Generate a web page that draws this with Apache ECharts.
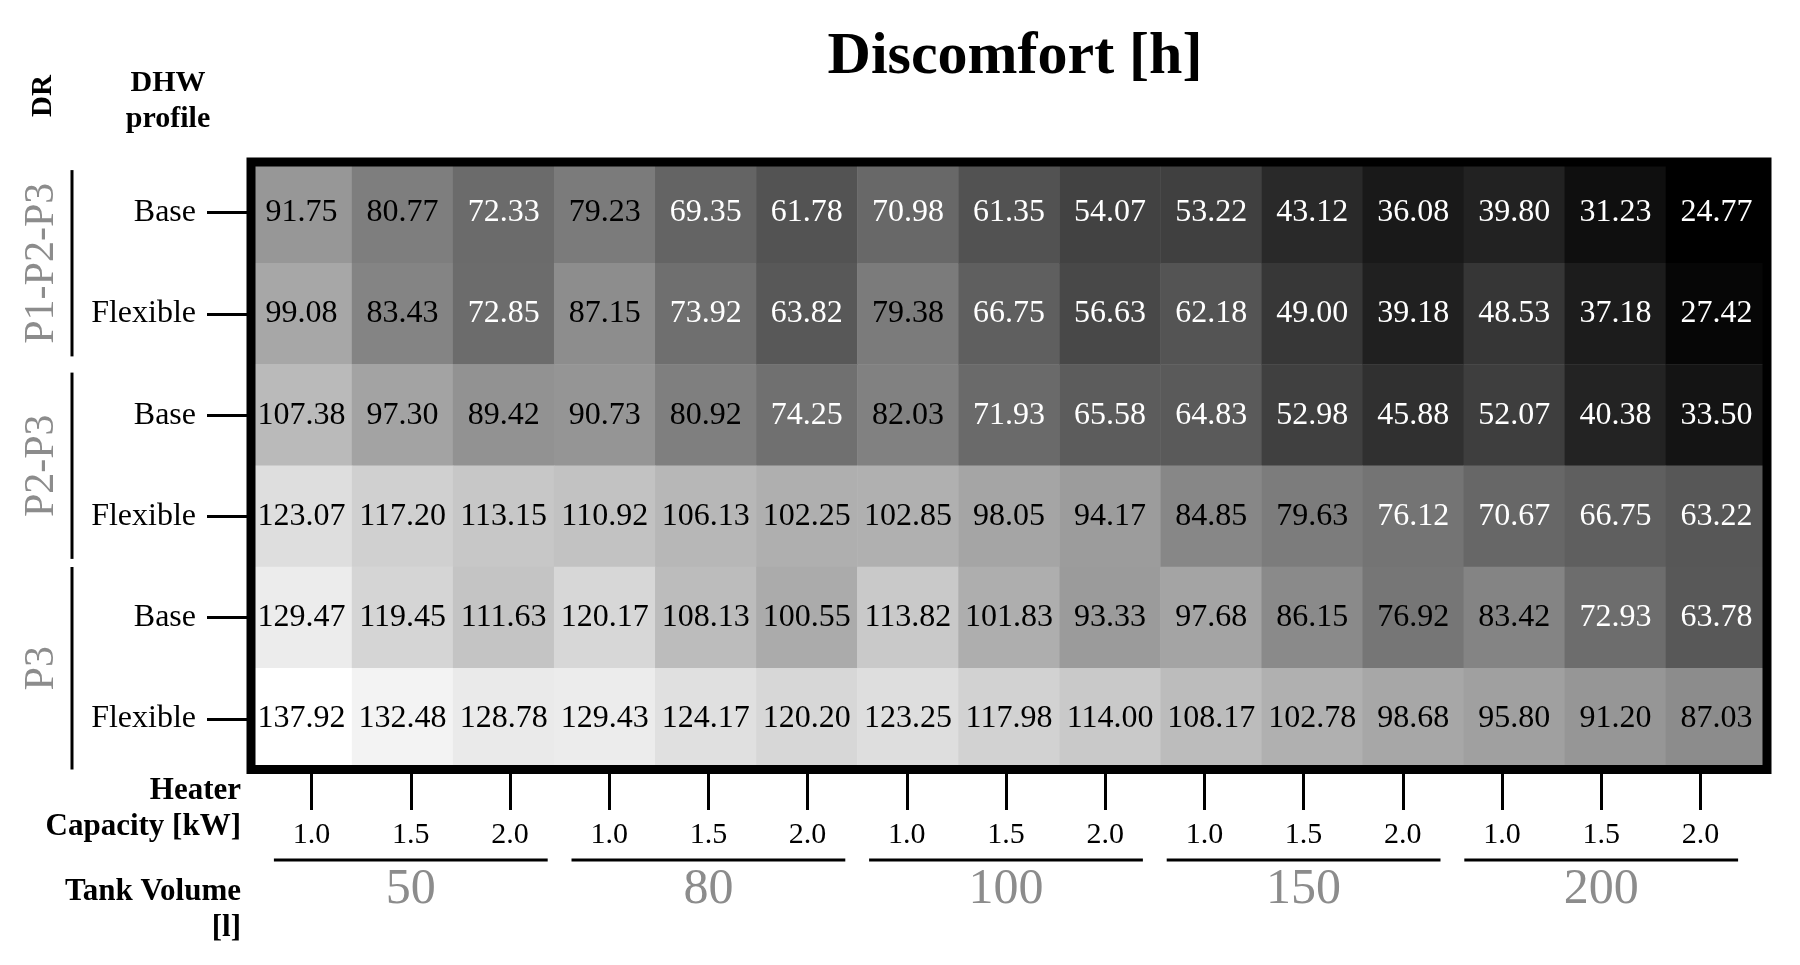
<!DOCTYPE html>
<html>
<head>
<meta charset="utf-8">
<title>Discomfort [h]</title>
<script src="https://cdn.jsdelivr.net/npm/echarts@6/dist/echarts.min.js"></script>
<style>
  html, body { margin: 0; padding: 0; background: #fff; }
  #chart { width: 1800px; height: 965px; }
</style>
</head>
<body>
<div id="chart"></div>
<script>
  // axis categories
  var heaterCaps = ['1.0', '1.5', '2.0']
  var tankVolumes = ['50', '80', '100', '150', '200']
  var drGroups = ['P1-P2-P3', 'P2-P3', 'P3']
  var profiles = ['Base', 'Flexible']

  // discomfort hours, one row per DR / DHW profile, 15 columns (tank x heater)
  var p123Base = [91.75, 80.77, 72.33, 79.23, 69.35, 61.78, 70.98, 61.35, 54.07, 53.22, 43.12, 36.08, 39.80, 31.23, 24.77]
  var p123Flex = [99.08, 83.43, 72.85, 87.15, 73.92, 63.82, 79.38, 66.75, 56.63, 62.18, 49.00, 39.18, 48.53, 37.18, 27.42]
  var p23Base = [107.38, 97.30, 89.42, 90.73, 80.92, 74.25, 82.03, 71.93, 65.58, 64.83, 52.98, 45.88, 52.07, 40.38, 33.50]
  var p23Flex = [123.07, 117.20, 113.15, 110.92, 106.13, 102.25, 102.85, 98.05, 94.17, 84.85, 79.63, 76.12, 70.67, 66.75, 63.22]
  var p3Base = [129.47, 119.45, 111.63, 120.17, 108.13, 100.55, 113.82, 101.83, 93.33, 97.68, 86.15, 76.92, 83.42, 72.93, 63.78]
  var p3Flex = [137.92, 132.48, 128.78, 129.43, 124.17, 120.20, 123.25, 117.98, 114.00, 108.17, 102.78, 98.68, 95.80, 91.20, 87.03]

  var rows = [p123Base, p123Flex, p23Base, p23Flex, p3Base, p3Flex]
  var FONT = 'Liberation Serif'
  var GRAY = '#8c8c8c'

  // build categories
  var colKeys = []
  var capLabels = []
  tankVolumes.forEach(function(v) {
    heaterCaps.forEach(function(c) {
      colKeys.push(v + '|' + c)
      capLabels.push(c)
    })
  })
  var rowKeys = []
  drGroups.forEach(function(g) {
    profiles.forEach(function(p) {
      rowKeys.push(g + '|' + p)
    })
  })

  var cells = []
  rows.forEach(function(r, y) {
    r.forEach(function(v, x) {
      // white numbers on the darker cells
      cells.push({ value: [x, y, v], label: { color: v < 76.5 ? '#fff' : '#000' } })
    })
  })

  var allVals = [].concat.apply([], rows)
  var vMin = Math.min.apply(null, allVals)
  var vMax = Math.max.apply(null, allVals)

  var chart = echarts.init(document.getElementById('chart'))
  chart.setOption({
    backgroundColor: '#fff',
    animation: false,
    title: {
      text: 'Discomfort [h]',
      left: 1010,
      top: 22,
      textAlign: 'center',
      textStyle: { fontFamily: FONT, fontSize: 60, fontWeight: 'bold', color: '#000' }
    },
    graphic: [
      {
        type: 'text', x: 44, y: 96, rotation: Math.PI / 2,
        style: { text: 'DR', fontFamily: FONT, fontSize: 29, fontWeight: 'bold', fill: '#000', align: 'center', verticalAlign: 'middle' }
      },
      {
        type: 'text', x: 168, y: 101,
        style: { text: 'DHW\nprofile', fontFamily: FONT, fontSize: 30, fontWeight: 'bold', lineHeight: 36, fill: '#000', align: 'center', verticalAlign: 'middle' }
      },
      {
        type: 'text', x: 241, y: 809,
        style: { text: 'Heater\nCapacity [kW]', fontFamily: FONT, fontSize: 31, fontWeight: 'bold', lineHeight: 36, fill: '#000', align: 'right', verticalAlign: 'middle' }
      },
      {
        type: 'text', x: 241, y: 910,
        style: { text: 'Tank Volume\n[l]', fontFamily: FONT, fontSize: 31, fontWeight: 'bold', lineHeight: 36, fill: '#000', align: 'right', verticalAlign: 'middle' }
      }
    ],
    grid: [
      // heatmap
      { left: 251, right: 33, top: 162, height: 607.5, show: true, z: 5, borderColor: '#000', borderWidth: 9, backgroundColor: 'transparent' },
      // heater capacity ticks
      { left: 262, width: 1488, top: 162, height: 608 },
      // tank volume groups
      { left: 262, width: 1488, top: 850, height: 10 },
      // DR groups
      { left: 0, width: 100, top: 162, height: 607.5 }
    ],
    xAxis: [
      { type: 'category', gridIndex: 0, data: colKeys, show: false },
      {
        type: 'category', gridIndex: 1, data: capLabels, position: 'bottom',
        axisLine: { show: false },
        axisTick: { show: true, alignWithLabel: true, length: 40, lineStyle: { color: '#000', width: 3 } },
        axisLabel: { margin: 50, fontFamily: FONT, fontSize: 30, color: '#000', interval: 0 }
      },
      {
        type: 'category', gridIndex: 2, data: tankVolumes, position: 'bottom',
        axisLine: { show: false }, axisTick: { show: false },
        axisLabel: { margin: 5, fontFamily: FONT, fontSize: 50, color: GRAY, interval: 0 }
      },
      { type: 'value', gridIndex: 3, min: 0, max: 100, show: false }
    ],
    yAxis: [
      {
        type: 'category', gridIndex: 0, data: rowKeys, inverse: true, position: 'left',
        axisLine: { show: false },
        axisTick: { show: true, alignWithLabel: true, length: 44, lineStyle: { color: '#000', width: 3 } },
        axisLabel: {
          margin: 55, fontFamily: FONT, fontSize: 32, color: '#000',
          formatter: function(v) { return v.split('|')[1] }
        }
      },
      { type: 'value', gridIndex: 1, show: false },
      { type: 'value', gridIndex: 2, min: 0, max: 1, show: false },
      { type: 'category', gridIndex: 3, data: drGroups, inverse: true, show: false }
    ],
    visualMap: {
      show: false,
      type: 'continuous',
      seriesIndex: 0,
      min: vMin,
      max: vMax,
      inRange: { color: ['#000000', '#ffffff'] }
    },
    series: [
      {
        type: 'heatmap',
        xAxisIndex: 0,
        yAxisIndex: 0,
        data: cells,
        emphasis: { disabled: true },
        label: {
          show: true,
          fontFamily: FONT,
          fontSize: 32,
          formatter: function(p) { return p.value[2].toFixed(2) }
        }
      },
      {
        // underline of each tank volume group
        type: 'custom',
        xAxisIndex: 2,
        yAxisIndex: 2,
        data: tankVolumes.map(function(v, i) { return [i, 0] }),
        renderItem: function(params, api) {
          var p = api.coord([api.value(0), 0])
          var w = api.size([1, 0])[0] * 0.92
          return {
            type: 'line',
            shape: { x1: p[0] - w / 2, y1: p[1], x2: p[0] + w / 2, y2: p[1] },
            style: { stroke: '#000', lineWidth: 3 }
          }
        }
      },
      {
        // DR group brackets and labels
        type: 'custom',
        xAxisIndex: 3,
        yAxisIndex: 3,
        data: drGroups.map(function(g, i) { return [0, i] }),
        renderItem: function(params, api) {
          var idx = api.value(1)
          var c = api.coord([0, idx])
          var band = api.size([0, 1])[1]
          var lineX = api.coord([72, idx])[0]
          var textX = api.coord([42, idx])[0]
          var half = band * (idx === drGroups.length - 1 ? 0.5 : 0.46)
          return {
            type: 'group',
            children: [
              {
                type: 'line',
                shape: { x1: lineX, y1: c[1] - half, x2: lineX, y2: c[1] + half },
                style: { stroke: '#000', lineWidth: 3 }
              },
              {
                type: 'text',
                x: textX, y: c[1], rotation: Math.PI / 2,
                style: { text: drGroups[idx], fontFamily: FONT, fontSize: 42, fill: GRAY, align: 'center', verticalAlign: 'middle' }
              }
            ]
          }
        }
      }
    ]
  })
</script>
</body>
</html>
